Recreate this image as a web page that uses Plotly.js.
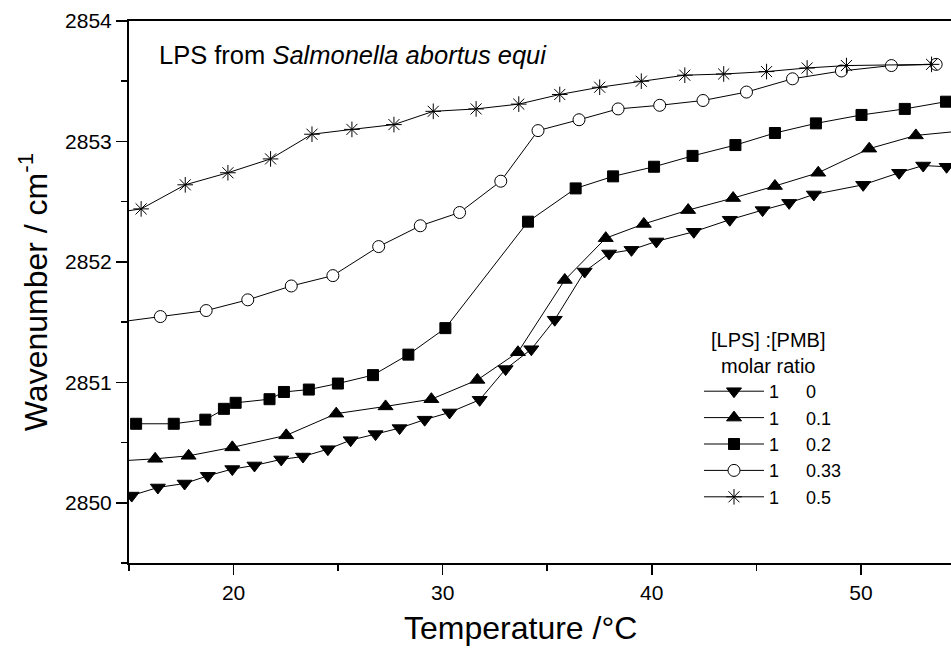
<!DOCTYPE html>
<html>
<head>
<meta charset="utf-8">
<script src="https://cdn.plot.ly/plotly-3.0.1.min.js"></script>
<style>
  html, body { margin: 0; padding: 0; background: #fff; overflow: hidden; }
  #chart { width: 951px; height: 650px; }
</style>
</head>
<body>
<div id="chart"></div>
<script>
// ---- Data ----
// [LPS]:[PMB] = 1:0
const t0 = [15.13, 16.38, 17.66, 18.77, 19.94, 21.0, 22.28, 23.32, 24.51, 25.6, 26.79, 27.94, 29.14, 30.33, 31.77, 33.01, 34.24, 35.36, 36.79, 37.96, 39.03, 40.22, 42.01, 43.73, 45.3, 46.57, 47.75, 50.11, 51.83, 52.98, 54.1];
const w0 = [2850.06, 2850.127, 2850.16, 2850.224, 2850.28, 2850.31, 2850.36, 2850.384, 2850.445, 2850.52, 2850.57, 2850.62, 2850.69, 2850.75, 2850.855, 2851.11, 2851.275, 2851.52, 2851.92, 2852.07, 2852.10, 2852.17, 2852.25, 2852.35, 2852.43, 2852.49, 2852.56, 2852.64, 2852.74, 2852.80, 2852.79];
// 1:0.1
const t1 = [14.3, 16.25, 17.85, 19.94, 22.52, 24.91, 27.27, 29.46, 31.66, 33.6, 35.84, 37.8, 39.62, 41.74, 43.89, 45.89, 47.96, 50.4, 52.63, 55.0];
const w1 = [2850.345, 2850.365, 2850.39, 2850.46, 2850.56, 2850.74, 2850.80, 2850.86, 2851.02, 2851.25, 2851.85, 2852.197, 2852.315, 2852.43, 2852.53, 2852.63, 2852.74, 2852.94, 2853.05, 2853.09];
// 1:0.2
const t2 = [15.34, 17.14, 18.65, 19.54, 20.1, 21.72, 22.41, 23.6, 24.99, 26.67, 28.36, 30.13, 34.08, 36.36, 38.15, 40.11, 41.95, 44.0, 45.89, 47.85, 50.03, 52.1, 54.07];
const w2 = [2850.656, 2850.656, 2850.69, 2850.78, 2850.83, 2850.86, 2850.92, 2850.94, 2850.99, 2851.06, 2851.23, 2851.45, 2852.334, 2852.61, 2852.71, 2852.79, 2852.88, 2852.97, 2853.07, 2853.15, 2853.22, 2853.27, 2853.33];
// 1:0.33
const t3 = [14.5, 16.5, 18.69, 20.68, 22.76, 24.75, 26.94, 28.93, 30.81, 32.78, 34.56, 36.52, 38.39, 40.38, 42.45, 44.53, 46.73, 49.07, 51.46, 53.6];
const w3 = [2851.50, 2851.546, 2851.596, 2851.685, 2851.80, 2851.886, 2852.127, 2852.30, 2852.41, 2852.67, 2853.09, 2853.18, 2853.27, 2853.30, 2853.34, 2853.41, 2853.52, 2853.585, 2853.63, 2853.64];
// 1:0.5
const t4 = [14.0, 15.58, 17.69, 19.73, 21.77, 23.75, 25.66, 27.67, 29.55, 31.6, 33.64, 35.6, 37.51, 39.5, 41.58, 43.44, 45.49, 47.43, 49.31, 53.38];
const w4 = [2852.40, 2852.44, 2852.64, 2852.74, 2852.855, 2853.06, 2853.10, 2853.14, 2853.25, 2853.27, 2853.31, 2853.39, 2853.45, 2853.50, 2853.55, 2853.56, 2853.58, 2853.61, 2853.63, 2853.64];

const seriesNames = ['1\u2003\u20020', '1\u2003\u20020.1', '1\u2003\u20020.2', '1\u2003\u20020.33', '1\u2003\u20020.5'];
const yTickVals = [2850, 2851, 2852, 2853, 2854];
const xTickVals = [20, 30, 40, 50];

const FONT = 'Liberation Sans, Arial, sans-serif';

function tr(x, y, name, symbol, size, fill) {
  return {
    x: x, y: y, name: name, type: 'scatter', mode: 'lines+markers',
    line: { color: '#000', width: 1 },
    marker: { symbol: symbol, size: size, color: fill, line: { color: '#000', width: 1 } },
    hoverinfo: 'skip'
  };
}

const data = [
  tr(t0, w0, seriesNames[0], 'triangle-down', 13, '#000'),
  tr(t1, w1, seriesNames[1], 'triangle-up', 13, '#000'),
  tr(t2, w2, seriesNames[2], 'square', 11, '#000'),
  tr(t3, w3, seriesNames[3], 'circle', 12, '#fff'),
  tr(t4, w4, seriesNames[4], 'asterisk-open', 13, '#000')
];

const layout = {
  width: 951, height: 650,
  margin: { l: 129, r: 0, t: 21, b: 87 },
  paper_bgcolor: '#fff', plot_bgcolor: '#fff',
  font: { family: FONT, color: '#000', size: 19 },
  showlegend: true,
  legend: {
    x: (699 - 129) / 822, y: (563 - 321) / 542, xanchor: 'left', yanchor: 'top',
    bgcolor: 'rgba(0,0,0,0)', borderwidth: 0,
    font: { family: FONT, size: 18, color: '#000' },
    itemwidth: 60,
    title: { text: '\u2002[LPS] :[PMB]<br>\u2003molar ratio', font: { family: FONT, size: 20, color: '#000' }, side: 'top' },
    tracegroupgap: 0
  },
  xaxis: {
    range: [15, 54.31],
    tickvals: xTickVals, ticktext: xTickVals.map(String),
    ticks: 'outside', ticklen: 10, tickwidth: 1.5, tickcolor: '#000',
    minor: { dtick: 5, tick0: 15, ticks: 'outside', ticklen: 6, tickwidth: 1.5, tickcolor: '#000' },
    showline: true, linecolor: '#000', linewidth: 2, mirror: true,
    showgrid: false, zeroline: false,
    tickfont: { family: FONT, size: 21, color: '#000' }
  },
  yaxis: {
    range: [2849.5, 2854],
    tickvals: yTickVals, ticktext: yTickVals.map(String),
    ticks: 'outside', ticklen: 11, tickwidth: 1.5, tickcolor: '#000',
    minor: { dtick: 0.5, tick0: 2849.5, ticks: 'outside', ticklen: 6, tickwidth: 1.5, tickcolor: '#000' },
    showline: true, linecolor: '#000', linewidth: 2,
    showgrid: false, zeroline: false,
    tickfont: { family: FONT, size: 21, color: '#000' },
    title: { text: 'Wavenumber / cm<sup>-1</sup>', font: { family: FONT, size: 32, color: '#000' }, standoff: 8 }
  },
  annotations: [
    {
      text: 'LPS from <i>Salmonella abortus equi</i>',
      xref: 'paper', yref: 'paper', x: (157 - 129) / 822, y: (563 - 55) / 542,
      xanchor: 'left', yanchor: 'middle', showarrow: false,
      font: { family: FONT, size: 25.5, color: '#000' }
    },
    {
      text: 'Temperature /°C',
      xref: 'paper', yref: 'paper', x: (520 - 129) / 822, y: -(628 - 563) / 542,
      xanchor: 'center', yanchor: 'middle', showarrow: false,
      font: { family: FONT, size: 32, color: '#000' }
    }
  ]
};

Plotly.newPlot('chart', data, layout, { displayModeBar: false, staticPlot: true });
</script>
</body>
</html>
